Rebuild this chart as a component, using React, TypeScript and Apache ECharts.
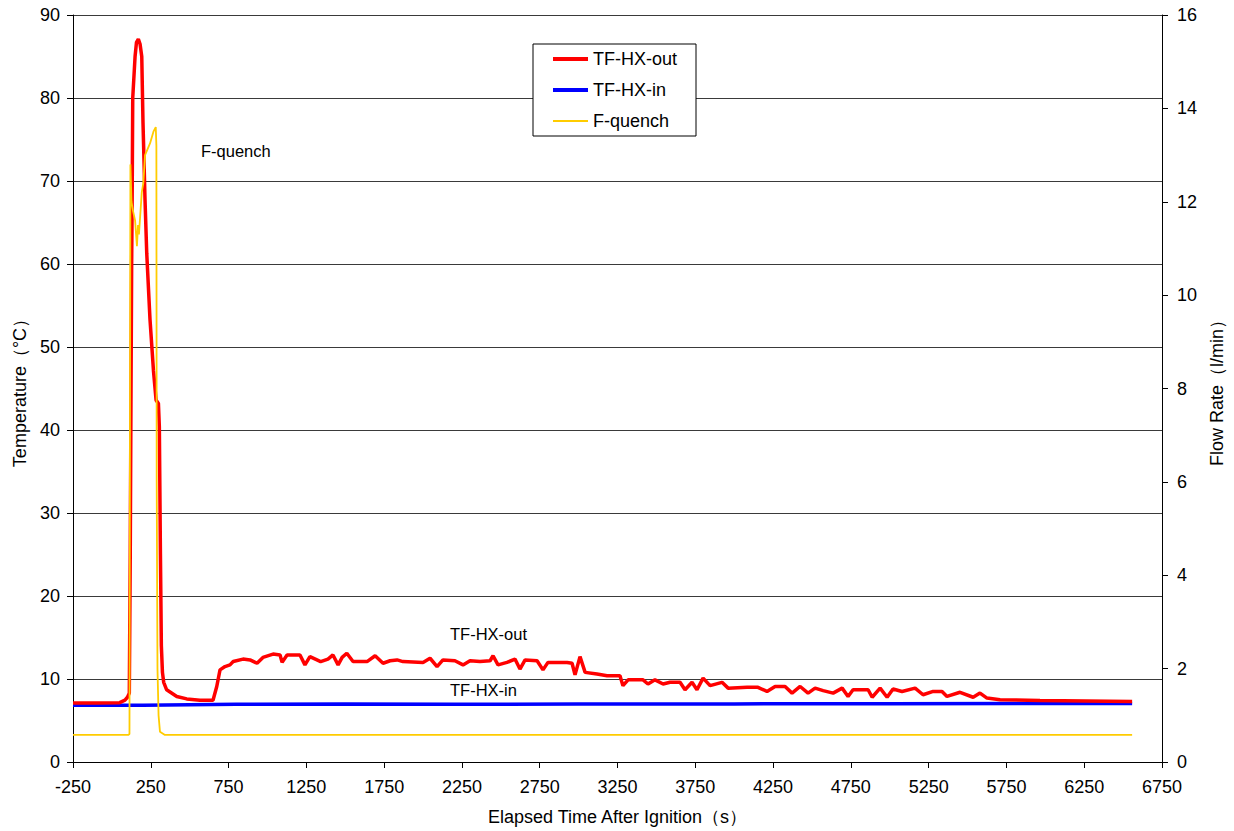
import React, { useEffect, useRef } from "react";
import * as echarts from "echarts";

const xTicks = { min: -250, max: 6750, interval: 500 };
const tempTicks = { min: 0, max: 90, interval: 10 };
const flowTicks = { min: 0, max: 16, interval: 2 };

const seriesNames = ["TF-HX-out", "TF-HX-in", "F-quench"];

// [elapsed time (s), temperature (°C)]
const tfHxOut: [number, number][] = [
  [-250, 7.1], [-100, 7.1], [50, 7.15], [84, 7.45], [100, 7.8], [112, 8.3], [118, 25], [123, 45], [127, 60],
  [130, 67], [134, 80], [149, 85], [158, 86.7], [170, 87.1], [181, 86.5], [192, 85], [200, 77], [213, 67.7],
  [224, 61.3], [245, 53.3], [267, 47.2], [284, 43.6], [299, 43.2], [305, 40.4], [312, 25], [318, 14],
  [325, 10.8], [333, 9.6], [352, 8.7], [417, 7.9], [481, 7.6], [566, 7.45], [650, 7.45], [674, 9.1],
  [695, 11.1], [727, 11.5], [759, 11.7], [780, 12.1], [843, 12.4], [888, 12.3], [933, 11.9], [971, 12.6],
  [1036, 13.0], [1081, 12.9], [1094, 12.0], [1126, 12.9], [1209, 12.9], [1241, 11.7], [1273, 12.7],
  [1342, 12.1], [1389, 12.4], [1421, 12.9], [1454, 11.7], [1480, 12.6], [1510, 13.1], [1550, 12.1],
  [1640, 12.1], [1692, 12.8], [1743, 11.9], [1788, 12.2], [1833, 12.3], [1871, 12.1], [2000, 12.0],
  [2045, 12.5], [2090, 11.5], [2128, 12.3], [2205, 12.2], [2257, 11.7], [2302, 12.2], [2366, 12.1],
  [2431, 12.2], [2450, 12.8], [2482, 11.7], [2540, 12.0], [2591, 12.4], [2623, 11.2], [2656, 12.3],
  [2733, 12.2], [2771, 11.1], [2803, 12.0], [2926, 12.0], [2958, 11.9], [2977, 10.5], [3009, 12.7],
  [3042, 10.8], [3118, 10.6], [3183, 10.4], [3266, 10.4], [3285, 9.2], [3318, 9.9], [3414, 9.9],
  [3446, 9.4], [3491, 9.9], [3543, 9.4], [3588, 9.6], [3652, 9.6], [3684, 8.7], [3729, 9.6], [3761, 8.7],
  [3800, 10.1], [3845, 9.2], [3922, 9.6], [3961, 8.9], [4083, 9.0], [4153, 9.0], [4211, 8.5], [4263, 9.1],
  [4327, 9.1], [4372, 8.3], [4424, 9.1], [4475, 8.3], [4520, 8.9], [4572, 8.6], [4636, 8.3], [4694, 8.9],
  [4732, 7.9], [4764, 8.7], [4861, 8.7], [4887, 7.8], [4938, 8.9], [4983, 7.8], [5021, 8.8], [5079, 8.5],
  [5163, 8.9], [5214, 8.1], [5279, 8.5], [5336, 8.5], [5368, 7.9], [5452, 8.4], [5536, 7.8], [5580, 8.3],
  [5625, 7.7], [5709, 7.5], [5966, 7.4], [6558, 7.3],
];

// [elapsed time (s), temperature (°C)]
const tfHxIn: [number, number][] = [
  [-250, 6.85], [200, 6.85], [800, 6.95], [1500, 7.0], [2200, 6.95], [3000, 7.0], [4000, 7.0],
  [5000, 7.02], [6558, 7.05],
];

// [elapsed time (s), flow rate (l/min)]
const fQuench: [number, number][] = [
  [-250, 0.58], [105, 0.58], [113, 0.6], [119, 12.8], [126, 12.0], [136, 11.8], [149, 11.6], [161, 11.05],
  [168, 11.5], [174, 11.3], [192, 12.2], [202, 12.4], [213, 13.0], [245, 13.25], [267, 13.5], [282, 13.6],
  [286, 13.2], [288, 6], [293, 2], [300, 1.0], [309, 0.65], [341, 0.58], [6558, 0.58],
];

const annotations = ["F-quench", "TF-HX-out", "TF-HX-in"];

const FONT = "'Liberation Sans', Arial, Helvetica, sans-serif";

export default function App() {
  const ref = useRef<HTMLDivElement>(null);
  useEffect(() => {
    if (!ref.current) return;
    const chart = echarts.init(ref.current, null, { renderer: "svg" });
    const axisLine = { show: true, onZero: false, lineStyle: { color: "#000", width: 1 } };
    const axisTick = { show: true, inside: false, length: 6, lineStyle: { color: "#000" } };
    const axisLabel = { color: "#000", fontSize: 18, fontFamily: FONT, formatter: (v: number) => String(v) };
    const nameStyle = { color: "#000", fontSize: 18, fontFamily: FONT };
    chart.setOption({
      animation: false,
      backgroundColor: "#fff",
      textStyle: { fontFamily: FONT },
      grid: { left: 73, right: 72, top: 15, bottom: 69, containLabel: false },
      legend: {
        left: 533,
        top: 44,
        orient: "vertical",
        backgroundColor: "#fff",
        borderColor: "#000",
        borderWidth: 1,
        borderRadius: 0,
        padding: [6, 19, 6, 20],
        itemGap: 13,
        itemWidth: 35,
        itemHeight: 14,
        symbolKeepAspect: true,
        textStyle: { color: "#000", fontSize: 18, fontFamily: FONT },
        data: [
          { name: seriesNames[0], icon: "path://M0,0H35V4H0Z", itemStyle: { color: "#FF0000" } },
          { name: seriesNames[1], icon: "path://M0,0H35V4H0Z", itemStyle: { color: "#0000FF" } },
          { name: seriesNames[2], icon: "path://M0,0H35V2H0Z", itemStyle: { color: "#FFCC00" } },
        ],
      },
      xAxis: {
        type: "value",
        min: xTicks.min,
        max: xTicks.max,
        interval: xTicks.interval,
        name: "Elapsed Time After Ignition（s）",
        nameLocation: "middle",
        nameGap: 46,
        nameTextStyle: nameStyle,
        axisLine,
        axisTick,
        axisLabel: { ...axisLabel, margin: 16 },
        splitLine: { show: false },
      },
      yAxis: [
        {
          type: "value",
          min: tempTicks.min,
          max: tempTicks.max,
          interval: tempTicks.interval,
          name: "Temperature（°C）",
          nameLocation: "middle",
          nameGap: 44,
          nameTextStyle: nameStyle,
          axisLine,
          axisTick,
          axisLabel: { ...axisLabel, margin: 13 },
          splitLine: { show: true, lineStyle: { color: "#3a3a3a", width: 1 } },
        },
        {
          type: "value",
          position: "right",
          min: flowTicks.min,
          max: flowTicks.max,
          interval: flowTicks.interval,
          name: "Flow Rate（l/min）",
          nameLocation: "middle",
          nameGap: 42,
          nameTextStyle: nameStyle,
          axisLine,
          axisTick,
          axisLabel: { ...axisLabel, margin: 15 },
          splitLine: { show: false },
        },
      ],
      series: [
        {
          name: seriesNames[0],
          type: "line",
          yAxisIndex: 0,
          data: tfHxOut,
          symbol: "none",
          lineStyle: { color: "#FF0000", width: 3.5 },
          itemStyle: { color: "#FF0000" },
          z: 3,
        },
        {
          name: seriesNames[1],
          type: "line",
          yAxisIndex: 0,
          data: tfHxIn,
          symbol: "none",
          lineStyle: { color: "#0000FF", width: 3.5 },
          itemStyle: { color: "#0000FF" },
          z: 2,
        },
        {
          name: seriesNames[2],
          type: "line",
          yAxisIndex: 1,
          data: fQuench,
          symbol: "none",
          lineStyle: { color: "#FFCC00", width: 1.8 },
          itemStyle: { color: "#FFCC00" },
          z: 4,
        },
      ],
      graphic: [
        { type: "text", x: 201, y: 151, style: { text: annotations[0], fontSize: 16.5, fontFamily: FONT, fill: "#000", verticalAlign: "middle" } },
        { type: "text", x: 450, y: 634, style: { text: annotations[1], fontSize: 16.5, fontFamily: FONT, fill: "#000", verticalAlign: "middle" } },
        { type: "text", x: 450, y: 690, style: { text: annotations[2], fontSize: 16.5, fontFamily: FONT, fill: "#000", verticalAlign: "middle" } },
      ],
    });
    return () => chart.dispose();
  }, []);
  return <div ref={ref} style={{ position: "absolute", left: 0, top: 0, width: 1234, height: 831 }} />;
}
